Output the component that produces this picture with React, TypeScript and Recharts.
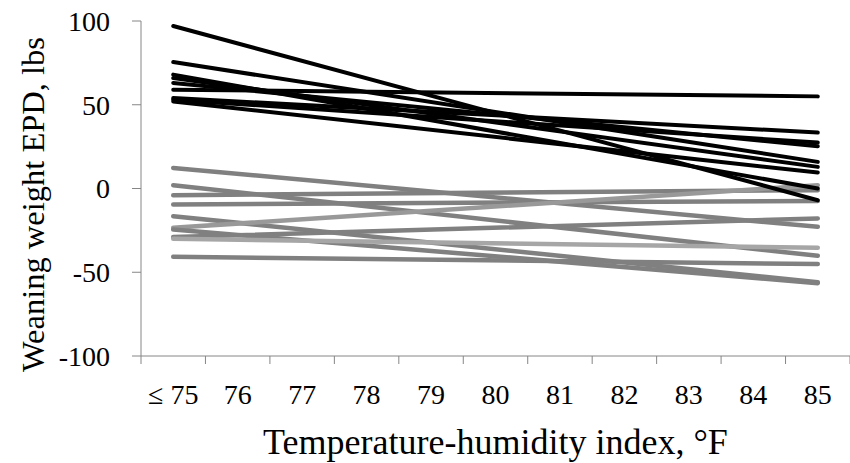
import React from 'react';
import { LineChart, Line, XAxis, YAxis } from 'recharts';

// THI categories (first one is the "75 or below" bucket)
const categories = ['≤ 75', '76', '77', '78', '79', '80', '81', '82', '83', '84', '85'];

// black lines: EPD at <=75 and at 85
const blackStart = [97, 75.5, 68, 66, 63, 59, 54, 53, 52];
const blackEnd = [-7, 15.9, 0, 12.9, 25.2, 55, 33.4, 27.4, 9.5];

// grey lines
const greyStart = [12.3, 2, -4, -9.5, -16.5, -23.5, -24.5, -29, -30, -40.8];
const greyEnd = [-22.9, -40.2, -1, -7.4, -56, 2, -56.5, -17.9, -35.4, -45.1];
const greyColors = ['#808080', '#808080', '#808080', '#808080', '#808080', '#999999', '#808080', '#808080', '#a6a6a6', '#808080'];

const yTicks = [-100, -50, 0, 50, 100];

const FONT = 'Liberation Serif, Times New Roman, serif';
const axisColor = '#868686';
const STEP = 709 / 11; // category band width, used for between-category tick marks
const TICK_SIZE = 8;
const TICK_MARGIN = 20;

// lines are straight from first to last category, points in between are left empty
const data = categories.map((c, i) => {
  const row: Record<string, string | number | null> = { thi: c };
  blackStart.forEach((v, k) => {
    row['b' + k] = i === 0 ? v : i === categories.length - 1 ? blackEnd[k] : null;
  });
  greyStart.forEach((v, k) => {
    row['g' + k] = i === 0 ? v : i === categories.length - 1 ? greyEnd[k] : null;
  });
  return row;
});

const XTick = (props: any) => {
  const { x, y, payload, index } = props;
  const axisY = y - TICK_SIZE - TICK_MARGIN;
  const isLast = index === categories.length - 1;
  return (
    <g>
      <line x1={x - STEP / 2} x2={x - STEP / 2} y1={axisY} y2={axisY + TICK_SIZE} stroke={axisColor} />
      {isLast && <line x1={x + STEP / 2} x2={x + STEP / 2} y1={axisY} y2={axisY + TICK_SIZE} stroke={axisColor} />}
      <text x={x} y={y} dy="0.71em" textAnchor="middle" style={{ fontSize: 28, fontFamily: FONT }} fill="#000">
        {payload.value}
      </text>
    </g>
  );
};

const YTick = (props: any) => {
  const { x, y, payload } = props;
  return (
    <text x={x} y={y} dy="0.355em" textAnchor="end" style={{ fontSize: 28, fontFamily: FONT }} fill="#000">
      {payload.value}
    </text>
  );
};

const XTitle = (props: any) => {
  const vb = props.viewBox || { x: 141, y: 356, width: 709 };
  return (
    <text x={vb.x + vb.width / 2} y={vb.y + 98} textAnchor="middle" style={{ fontSize: 36, fontFamily: FONT }} fill="#000">
      Temperature-humidity index, °F
    </text>
  );
};

const YTitle = (props: any) => {
  const vb = props.viewBox || { x: 0, y: 21, height: 335 };
  const cx = 44;
  const cy = vb.y + vb.height / 2 + 16;
  return (
    <text x={cx} y={cy} transform={`rotate(-90, ${cx}, ${cy})`} textAnchor="middle" style={{ fontSize: 32.5, fontFamily: FONT }} fill="#000">
      Weaning weight EPD, lbs
    </text>
  );
};

export default function App() {
  return (
    <div style={{ position: 'absolute', left: 0, top: 0, width: 850, height: 463, background: '#fff' }}>
      <LineChart width={850} height={463} data={data} margin={{ top: 21, right: 0, bottom: 0, left: 0 }}>
        <XAxis
          dataKey="thi"
          interval={0}
          height={107}
          padding={{ left: STEP / 2, right: STEP / 2 }}
          stroke={axisColor}
          tickLine={false}
          tickSize={TICK_SIZE}
          tickMargin={TICK_MARGIN}
          tick={<XTick />}
          label={<XTitle />}
        />
        <YAxis
          domain={[-100, 100]}
          ticks={yTicks}
          width={141}
          stroke={axisColor}
          tickSize={9}
          tickMargin={22}
          tick={<YTick />}
          label={<YTitle />}
        />
        {greyStart.map((_, k) => (
          <Line
            key={'g' + k}
            dataKey={'g' + k}
            stroke={greyColors[k]}
            strokeWidth={4.5}
            strokeLinecap="round"
            dot={false}
            activeDot={false}
            connectNulls
            isAnimationActive={false}
          />
        ))}
        {blackStart.map((_, k) => (
          <Line
            key={'b' + k}
            dataKey={'b' + k}
            stroke="#000"
            strokeWidth={4}
            strokeLinecap="round"
            dot={false}
            activeDot={false}
            connectNulls
            isAnimationActive={false}
          />
        ))}
      </LineChart>
    </div>
  );
}
